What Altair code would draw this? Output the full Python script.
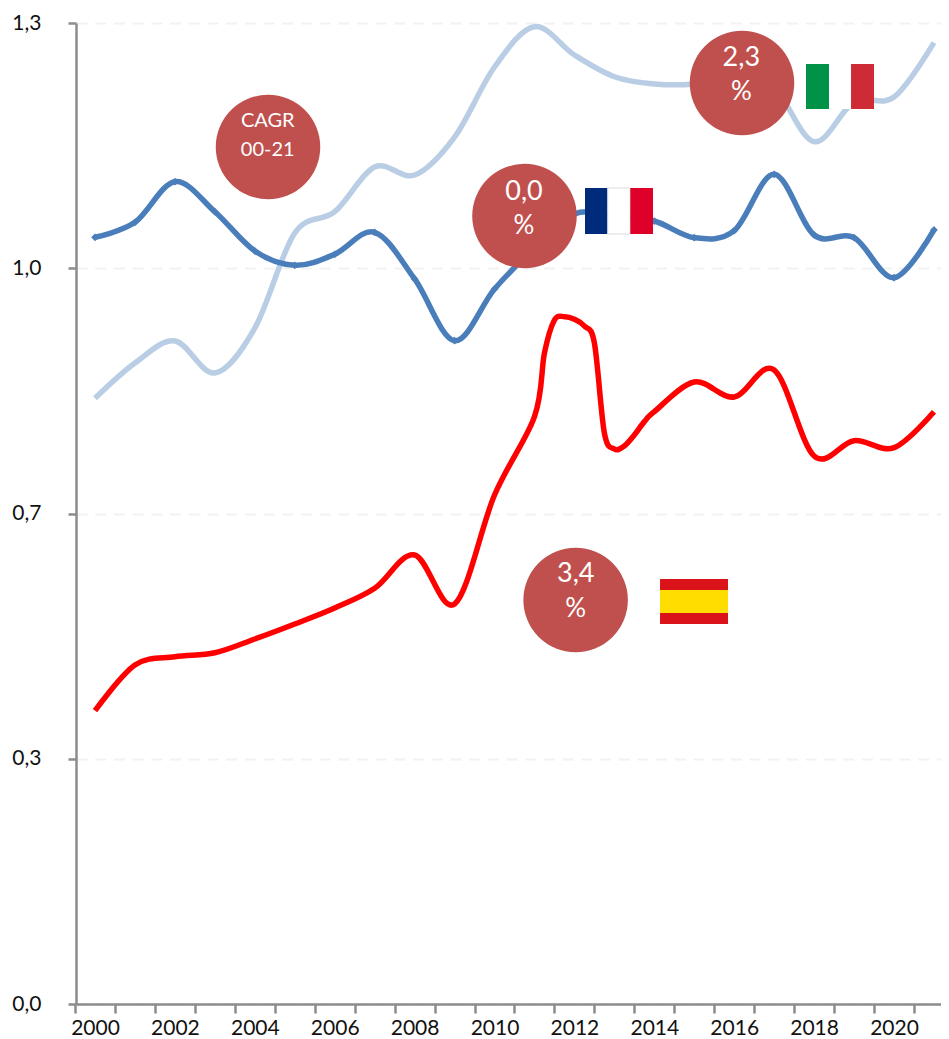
import altair as alt
import pandas as pd

years = list(range(2000, 2022))
france = [1.0160, 1.0359, 1.0897, 1.0499, 0.9979, 0.9789, 0.9935, 1.0226, 0.9608, 0.8790, 0.9475,
          1.0018, 1.0469, 1.0443, 1.0376, 1.0155, 1.0248, 1.0995, 1.0191, 1.0155, 0.9625, 1.0257]
italy = [0.8027, 0.8494, 0.8786, 0.8362, 0.8958, 1.0217, 1.0499, 1.1092, 1.0986, 1.1489, 1.2417,
         1.2951, 1.2576, 1.2288, 1.2192, 1.2192, 1.2284, 1.2139, 1.1427, 1.1953, 1.2019, 1.2739]
# Spain: annual readings, plus extra readings off the drawn curve around its 2012 plateau
spain_years = [2000, 2001, 2002, 2003, 2004, 2005, 2006, 2007, 2008, 2009, 2010,
               2011, 2011.25, 2011.5, 2011.75, 2012, 2012.25, 2012.5, 2012.75, 2013,
               2013.25, 2013.5, 2013.75, 2014, 2015, 2016, 2017, 2018, 2019, 2020, 2021]
spain = [0.3887, 0.4492, 0.4602, 0.4655, 0.4837, 0.5036, 0.5248, 0.5509, 0.5950, 0.5301, 0.6745,
         0.7783, 0.8627, 0.9064, 0.9108, 0.9074, 0.8985, 0.8760, 0.7567, 0.7355,
         0.7395, 0.7540, 0.7717, 0.7849, 0.8243, 0.8044, 0.8402, 0.7262, 0.7465, 0.7372, 0.7849]

y_ticks = [0, 0.325, 0.65, 0.975, 1.3]

bubble_x = [2004.33, 2016.195, 2010.75, 2012.03]
bubble_y = [1.1357, 1.2205, 1.0442, 0.5354]

label_text = ["CAGR", "00-21", "2,3", "%", "0,0", "%", "3,4", "%"]
label_x = [2004.323, 2004.323, 2016.178, 2016.178, 2010.738, 2010.738, 2012.033, 2012.033]
label_y = [1.1706, 1.1317, 1.2530, 1.2090, 1.0765, 1.0310, 0.5698, 0.5230]
label_size = [20, 20, 27, 26, 27, 26, 27, 26]

flag_x = [2017.797, 2018.373, 2018.924,
          2012.265, 2012.834, 2013.399,
          2014.143, 2014.143, 2014.143]
flag_x2 = [2018.373, 2018.924, 2019.499,
           2012.834, 2013.399, 2013.967,
           2015.845, 2015.845, 2015.845]
flag_y = [1.2457, 1.2457, 1.2457,
          1.0814, 1.0814, 1.0814,
          0.5632, 0.5486, 0.5181]
flag_y2 = [1.1860, 1.1860, 1.1860,
           1.0204, 1.0204, 1.0204,
           0.5486, 0.5181, 0.5036]
flag_color = ["#009246", "#FFFFFF", "#CE2B37",
              "#002B7A", "#FFFFFF", "#DE0029",
              "#DA121A", "#FFDD00", "#DA121A"]
flag_edge_width = [0, 0, 0, 0, 1, 0, 0, 0, 0]

FONT = "Lato"
GREY = "#8C8C8C"

x_scale = alt.Scale(domain=[1999.524, 2021.176], nice=False, zero=False)
y_scale = alt.Scale(domain=[0, 1.3], nice=False, zero=False)

x_enc = alt.X(
    "year:Q", scale=x_scale,
    axis=alt.Axis(
        values=years, tickOffset=-19.97, labelOffset=19.97,
        labelExpr="datum.value % 2 == 0 ? toString(datum.value) : ''",
        labelOverlap=False, labelFlush=False, labelBound=False, grid=False, title=None,
        tickSize=9, tickWidth=2.5, tickColor=GREY, domainColor=GREY, domainWidth=2.5,
        labelFont=FONT, labelFontSize=21, labelColor="#111111", labelPadding=4,
    ),
)
y_enc = alt.Y(
    "value:Q", scale=y_scale,
    axis=alt.Axis(
        values=y_ticks,
        labelExpr="replace(format(datum.value, '.1f'), '.', ',')",
        labelOverlap=False, labelFlush=False, labelBound=False, title=None,
        grid=True, gridColor="#F2F2F2", gridWidth=2, gridDash=[11, 7.7],
        tickSize=8, tickWidth=2.5, tickColor=GREY, domainColor=GREY, domainWidth=2.5,
        labelFont=FONT, labelFontSize=21, labelColor="#111111", labelPadding=27,
    ),
)


def series_line(xs, values, color):
    frame = pd.DataFrame({"year": xs, "value": values})
    return alt.Chart(frame).mark_line(
        interpolate="cardinal", tension=0, color=color, strokeWidth=5.5
    ).encode(x=x_enc, y=y_enc)


italy_line = series_line(years, italy, "#B9CDE5")
france_line = series_line(years, france, "#4A7EBB")
spain_line = series_line(spain_years, spain, "#FF0000")

france_points = alt.Chart(pd.DataFrame({"year": years, "value": france})).mark_point(
    shape="diamond", filled=True, size=60, color="#4A7EBB", opacity=1
).encode(x=x_enc, y=y_enc)

bubbles = alt.Chart(pd.DataFrame({"year": bubble_x, "value": bubble_y})).mark_circle(
    size=10920, color="#C0504D", opacity=1
).encode(x=x_enc, y=y_enc)

labels = alt.Chart(pd.DataFrame({
    "year": label_x, "value": label_y, "text": label_text, "size": label_size
})).mark_text(font=FONT, color="#FFFFFF", align="center", baseline="middle").encode(
    x=x_enc, y=y_enc, text="text:N",
    size=alt.Size("size:Q", scale=None, legend=None),
)

flags = alt.Chart(pd.DataFrame({
    "year": flag_x, "year2": flag_x2, "value": flag_y, "value2": flag_y2,
    "color": flag_color, "edge": flag_edge_width
})).mark_rect(stroke="#DDDDDD").encode(
    x=x_enc, x2="year2:Q", y=y_enc, y2="value2:Q",
    color=alt.Color("color:N", scale=None, legend=None),
    strokeWidth=alt.StrokeWidth("edge:Q", scale=None, legend=None),
)

chart = alt.layer(
    italy_line, france_line, france_points, spain_line, bubbles, labels, flags
).properties(
    width=865, height=981,
    autosize=alt.AutoSizeParams(type="none"),
    padding={"left": 68, "top": 15, "right": 0, "bottom": 33},
).configure_view(stroke=None)

chart.save("out.html", embed_options={"renderer": "svg", "actions": False})
